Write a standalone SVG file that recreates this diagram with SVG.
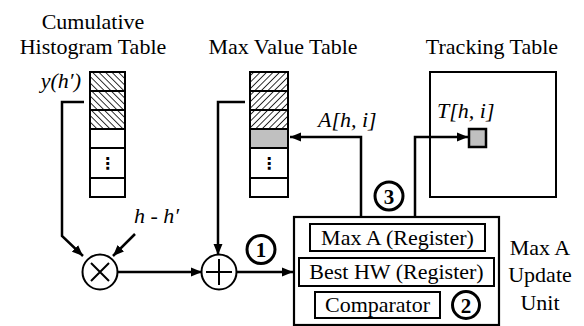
<svg xmlns="http://www.w3.org/2000/svg" width="584" height="326" viewBox="0 0 584 326" font-family="'Liberation Serif', 'Times New Roman', Tinos, 'DejaVu Serif', serif">
<style>
text{font-family:'Liberation Serif','Times New Roman',Tinos,'DejaVu Serif',serif;fill:#000}
.lbl{font-size:22px;text-anchor:middle}
.it{font-size:22px;font-style:italic}
.num{font-size:21px;font-weight:bold;text-anchor:middle}
.tb{fill:#fff;stroke:#000;stroke-width:2}
.row{stroke:#000;stroke-width:2}
.box{fill:#fff;stroke:#000;stroke-width:2.2}
.ibox{fill:none;stroke:#000;stroke-width:2}
.conn{fill:none;stroke:#000;stroke-width:2.5}
.ring{fill:#fff;stroke:#000;stroke-width:3}
.op{fill:#fff;stroke:#000;stroke-width:2}
.sym{stroke:#000;stroke-width:2;fill:none}
.dots{font-family:'DejaVu Sans',sans-serif;font-size:16px;font-weight:bold;text-anchor:middle}
</style>
<defs>
<pattern id="hb" width="4.6" height="10" patternUnits="userSpaceOnUse" patternTransform="rotate(-45)">
<line x1="0" y1="0" x2="0" y2="10" stroke="#000" stroke-width="1.6"/>
</pattern>
<pattern id="hf" width="4.6" height="10" patternUnits="userSpaceOnUse" patternTransform="rotate(45)">
<line x1="0" y1="0" x2="0" y2="10" stroke="#000" stroke-width="1.6"/>
</pattern>
<marker id="ah" markerWidth="12" markerHeight="10" refX="11" refY="5" orient="auto" markerUnits="userSpaceOnUse">
<path d="M0,0.5 L11,5 L0,9.5 Z" fill="#000"/>
</marker>
</defs>

<g id="cumulative-histogram-table">
<text class="lbl" x="93" y="29">Cumulative</text>
<text class="lbl" x="93" y="54">Histogram Table</text>
<text class="it" x="81" y="88" text-anchor="end">y(h′)</text>
<rect class="tb" x="90" y="72" width="35" height="125"/>
<rect x="90" y="72" width="35" height="57" fill="url(#hb)"/>
<line class="row" x1="90" y1="91" x2="125" y2="91"/>
<line class="row" x1="90" y1="110" x2="125" y2="110"/>
<line class="row" x1="90" y1="129" x2="125" y2="129"/>
<line class="row" x1="90" y1="148" x2="125" y2="148"/>
<line class="row" x1="90" y1="178" x2="125" y2="178"/>
<rect x="90" y="72" width="35" height="125" fill="none" stroke="#000" stroke-width="2"/>
<text class="dots" x="107.5" y="169">⋮</text>
</g>

<g id="max-value-table">
<text class="lbl" x="283" y="54">Max Value Table</text>
<rect class="tb" x="250" y="72" width="38" height="125"/>
<rect x="250" y="72" width="38" height="57" fill="url(#hf)"/>
<rect x="250" y="129" width="38" height="19" fill="#c0c0c0"/>
<line class="row" x1="250" y1="91" x2="288" y2="91"/>
<line class="row" x1="250" y1="110" x2="288" y2="110"/>
<line class="row" x1="250" y1="129" x2="288" y2="129"/>
<line class="row" x1="250" y1="148" x2="288" y2="148"/>
<line class="row" x1="250" y1="178" x2="288" y2="178"/>
<rect x="250" y="72" width="38" height="125" fill="none" stroke="#000" stroke-width="2"/>
<text class="dots" x="269" y="169">⋮</text>
</g>

<g id="tracking-table">
<text class="lbl" x="492" y="54">Tracking Table</text>
<rect class="tb" x="430" y="72" width="126" height="125"/>
<rect x="469" y="129" width="17" height="18" fill="#c0c0c0" stroke="#000" stroke-width="2.5"/>
<text class="it" x="437" y="118">T[h, i]</text>
</g>

<g id="multiplier">
<circle class="op" cx="100" cy="272" r="17.5"/>
<path class="sym" d="M91,263 L109,281 M109,263 L91,281"/>
</g>

<g id="adder">
<circle class="op" cx="219" cy="272" r="17.5"/>
<path class="sym" d="M219,259 V285 M206,272 H232"/>
</g>

<g id="max-a-update-unit">
<rect class="box" x="294" y="217" width="205" height="108"/>
<rect class="ibox" x="310" y="224" width="175" height="27"/>
<text class="lbl" x="397.5" y="245">Max A (Register)</text>
<rect class="ibox" x="299" y="258" width="195" height="28"/>
<text class="lbl" x="396.5" y="279">Best HW (Register)</text>
<rect class="ibox" x="315" y="292" width="125" height="26"/>
<text class="lbl" x="377.5" y="312">Comparator</text>
<circle class="ring" cx="466" cy="305" r="13.5"/>
<text class="num" x="466" y="312.5">2</text>
<text class="lbl" x="540" y="255">Max A</text>
<text class="lbl" x="540" y="282">Update</text>
<text class="lbl" x="540" y="310">Unit</text>
</g>

<g id="connectors">
<path class="conn" d="M84,102 H62 V236 L83,256" marker-end="url(#ah)"/>
<path class="conn" d="M135,234 L113,256" marker-end="url(#ah)"/>
<text class="it" x="134" y="223">h - h′</text>
<path class="conn" d="M117.5,272 H202" marker-end="url(#ah)"/>
<path class="conn" d="M245,102 H218 V255" marker-end="url(#ah)"/>
<path class="conn" d="M236.5,272 H293" marker-end="url(#ah)"/>
<circle class="ring" cx="261" cy="249.5" r="14"/>
<text class="num" x="261" y="257">1</text>
<path class="conn" d="M361,217 V137 H290" marker-end="url(#ah)"/>
<text class="it" x="318" y="127">A[h, i]</text>
<path class="conn" d="M415,217 V137 H468" marker-end="url(#ah)"/>
<circle class="ring" cx="389" cy="196" r="14"/>
<text class="num" x="389" y="203.5">3</text>
</g>
</svg>
